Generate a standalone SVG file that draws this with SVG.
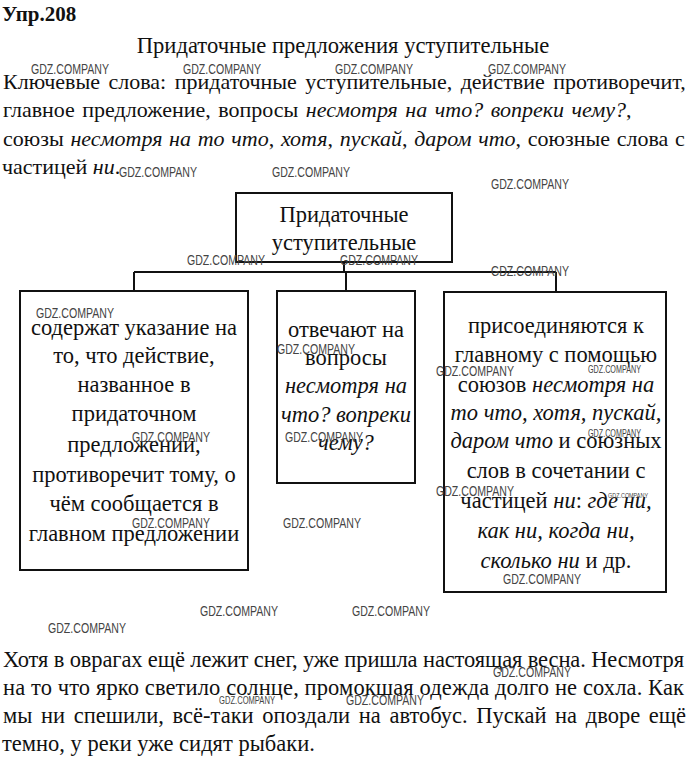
<svg xmlns="http://www.w3.org/2000/svg" width="687" height="758" viewBox="0 0 687 758">
<style>
text{font-family:"Liberation Serif","Times New Roman",serif;fill:#111}
.b{font-size:22px}
.p{font-size:22.5px}
.t{font-size:22.5px;text-anchor:middle}
.i{font-style:italic}
.box{fill:#fff;stroke:#111;stroke-width:2}
.ln{stroke:#111;stroke-width:2;fill:none}
.wm{font-family:"Liberation Sans",Arial,sans-serif;font-size:14px;fill:#444}
</style>
<rect width="687" height="758" fill="#fff"/>
<text x="2" y="21" style="font-size:21px;font-weight:bold">Упр.208</text>
<text x="343" y="53" style="font-size:22.6px" text-anchor="middle">Придаточные предложения уступительные</text>
<text x="3" y="89" class="b" word-spacing="3">Ключевые слова: придаточные уступительные, действие противоречит,</text>
<text x="3" y="117" class="b" word-spacing="2">главное предложение, вопросы <tspan class="i">несмотря на что? вопреки чему?</tspan>,</text>
<text x="3" y="146" class="b" word-spacing="1.2">союзы <tspan class="i">несмотря на то что</tspan>, <tspan class="i">хотя</tspan>, <tspan class="i">пускай</tspan>, <tspan class="i">даром что</tspan>, союзные слова с</text>
<text x="2" y="174" class="b">частицей <tspan class="i">ни</tspan>.</text>

<g id="connectors">
<line class="ln" x1="344" y1="262" x2="344" y2="272"/>
<line class="ln" x1="134" y1="272" x2="556" y2="272"/>
<line class="ln" x1="134" y1="272" x2="134" y2="291"/>
<line class="ln" x1="346" y1="272" x2="346" y2="291"/>
<line class="ln" x1="556" y1="272" x2="556" y2="292"/>
</g>

<g id="root">
<rect class="box" x="236" y="193" width="216" height="69"/>
<text class="t" x="344" y="222">Придаточные</text>
<text class="t" x="344" y="250">уступительные</text>
</g>

<g id="left">
<rect class="box" x="20" y="291" width="228" height="279"/>
<text class="t" x="134" y="335">содержат указание на</text>
<text class="t" x="134" y="363">то, что действие,</text>
<text class="t" x="134" y="392">названное в</text>
<text class="t" x="134" y="421">придаточном</text>
<text class="t" x="134" y="452">предложении,</text>
<text class="t" x="134" y="482">противоречит тому, о</text>
<text class="t" x="134" y="511">чём сообщается в</text>
<text class="t" x="134" y="541">главном предложении</text>
</g>

<g id="middle">
<rect class="box" x="277" y="291" width="138" height="192"/>
<text class="t" x="346" y="337">отвечают на</text>
<text class="t" x="346" y="365">вопросы</text>
<text class="t i" x="346" y="393">несмотря на</text>
<text class="t i" x="346" y="422">что? вопреки</text>
<text class="t i" x="346" y="450">чему?</text>
</g>

<g id="right">
<rect class="box" x="444" y="292" width="222" height="300"/>
<text class="t" x="556" y="333">присоединяются к</text>
<text class="t" x="556" y="362">главному с помощью</text>
<text class="t" x="556" y="392">союзов <tspan class="i">несмотря на</tspan></text>
<text class="t i" x="556" y="420">то что, хотя, пускай,</text>
<text class="t" x="556" y="448"><tspan class="i">даром что</tspan> и союзных</text>
<text class="t" x="556" y="478">слов в сочетании с</text>
<text class="t" x="556" y="508">частицей <tspan class="i">ни</tspan>: <tspan class="i">где ни,</tspan></text>
<text class="t i" x="556" y="538">как ни, когда ни,</text>
<text class="t" x="556" y="568"><tspan class="i">сколько ни</tspan> и др.</text>
</g>

<text x="3" y="667" class="p" textLength="681" lengthAdjust="spacing">Хотя в оврагах ещё лежит снег, уже пришла настоящая весна. Несмотря</text>
<text x="3" y="695" class="p" textLength="681" lengthAdjust="spacing">на то что ярко светило солнце, промокшая одежда долго не сохла. Как</text>
<text x="3" y="723" class="p" word-spacing="3">мы ни спешили, всё-таки опоздали на автобус. Пускай на дворе ещё</text>
<text x="2" y="751" class="p">темно, у реки уже сидят рыбаки.</text>

<g id="watermarks">
<text class="wm" x="31" y="74" textLength="78" lengthAdjust="spacingAndGlyphs">GDZ.COMPANY</text>
<text class="wm" x="183" y="74" textLength="78" lengthAdjust="spacingAndGlyphs">GDZ.COMPANY</text>
<text class="wm" x="335" y="74" textLength="78" lengthAdjust="spacingAndGlyphs">GDZ.COMPANY</text>
<text class="wm" x="488" y="74" textLength="78" lengthAdjust="spacingAndGlyphs">GDZ.COMPANY</text>
<text class="wm" x="119" y="177" textLength="78" lengthAdjust="spacingAndGlyphs">GDZ.COMPANY</text>
<text class="wm" x="272" y="177" textLength="78" lengthAdjust="spacingAndGlyphs">GDZ.COMPANY</text>
<text class="wm" x="491" y="189" textLength="78" lengthAdjust="spacingAndGlyphs">GDZ.COMPANY</text>
<text class="wm" x="187" y="265" textLength="78" lengthAdjust="spacingAndGlyphs">GDZ.COMPANY</text>
<text class="wm" x="340" y="265" textLength="78" lengthAdjust="spacingAndGlyphs">GDZ.COMPANY</text>
<text class="wm" x="491" y="276" textLength="78" lengthAdjust="spacingAndGlyphs">GDZ.COMPANY</text>
<text class="wm" x="36" y="318" textLength="78" lengthAdjust="spacingAndGlyphs">GDZ.COMPANY</text>
<text class="wm" x="132" y="442" textLength="78" lengthAdjust="spacingAndGlyphs">GDZ.COMPANY</text>
<text class="wm" x="132" y="528" textLength="78" lengthAdjust="spacingAndGlyphs">GDZ.COMPANY</text>
<text class="wm" x="277" y="354" textLength="78" lengthAdjust="spacingAndGlyphs">GDZ.COMPANY</text>
<text class="wm" x="285" y="442" textLength="78" lengthAdjust="spacingAndGlyphs">GDZ.COMPANY</text>
<text class="wm" x="436" y="376" textLength="78" lengthAdjust="spacingAndGlyphs">GDZ.COMPANY</text>
<text class="wm" x="588" y="373" style="font-size:11px" textLength="53" lengthAdjust="spacingAndGlyphs">GDZ.COMPANY</text>
<text class="wm" x="588" y="437" style="font-size:11px" textLength="53" lengthAdjust="spacingAndGlyphs">GDZ.COMPANY</text>
<text class="wm" x="436" y="496" textLength="78" lengthAdjust="spacingAndGlyphs">GDZ.COMPANY</text>
<text class="wm" x="608" y="498" style="font-size:8px" textLength="40" lengthAdjust="spacingAndGlyphs">GDZ.COMPANY</text>
<text class="wm" x="503" y="584" textLength="78" lengthAdjust="spacingAndGlyphs">GDZ.COMPANY</text>
<text class="wm" x="283" y="528" textLength="78" lengthAdjust="spacingAndGlyphs">GDZ.COMPANY</text>
<text class="wm" x="200" y="616" textLength="78" lengthAdjust="spacingAndGlyphs">GDZ.COMPANY</text>
<text class="wm" x="352" y="616" textLength="78" lengthAdjust="spacingAndGlyphs">GDZ.COMPANY</text>
<text class="wm" x="48" y="633" textLength="78" lengthAdjust="spacingAndGlyphs">GDZ.COMPANY</text>
<text class="wm" x="493" y="677" textLength="78" lengthAdjust="spacingAndGlyphs">GDZ.COMPANY</text>
<text class="wm" x="219" y="704" style="font-size:10px" textLength="56" lengthAdjust="spacingAndGlyphs">GDZ.COMPANY</text>
<text class="wm" x="346" y="705" textLength="78" lengthAdjust="spacingAndGlyphs">GDZ.COMPANY</text>
</g>
</svg>
